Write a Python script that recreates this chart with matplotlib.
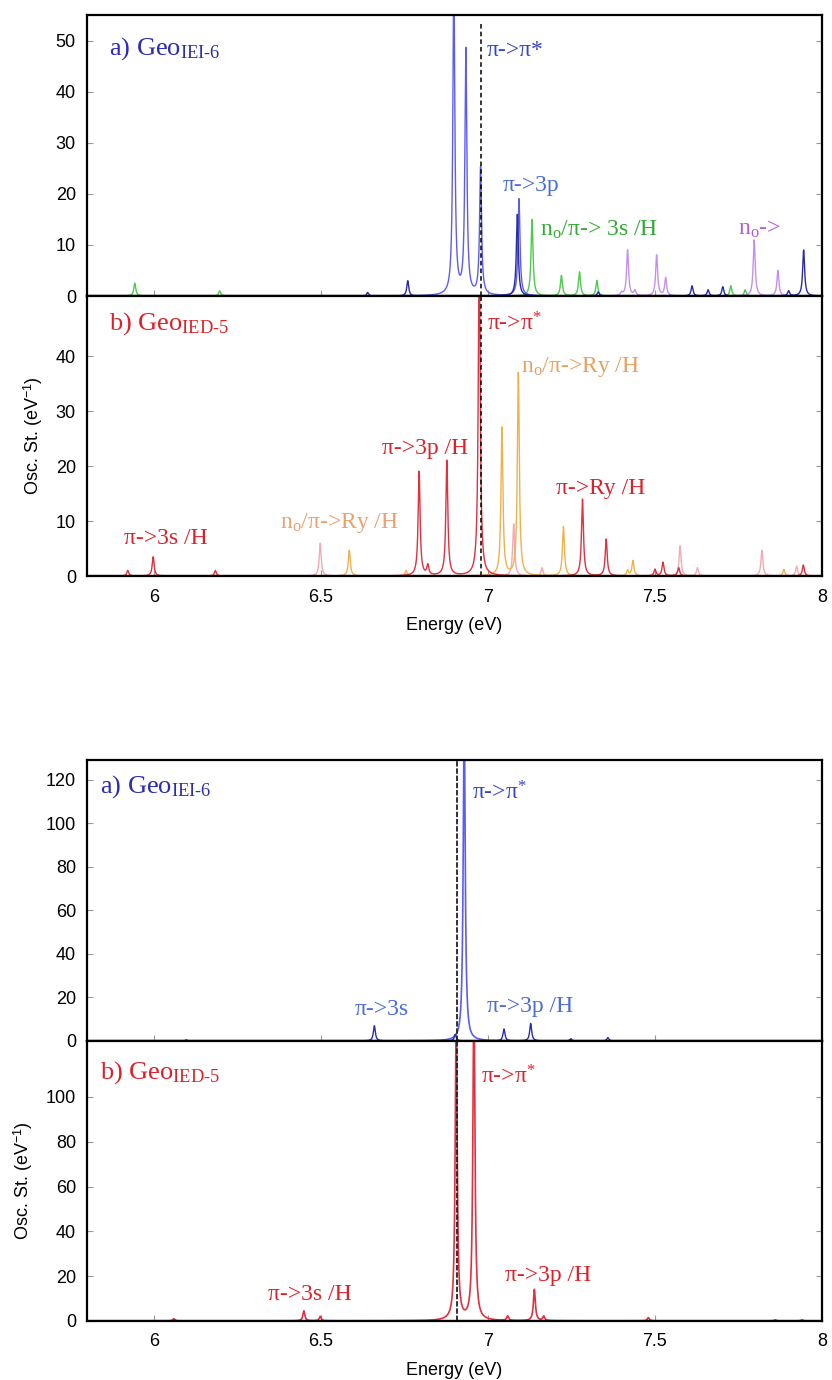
import numpy as np
import matplotlib
matplotlib.use("Agg")
from matplotlib import pyplot as plt
from matplotlib.ticker import FuncFormatter

plt.rcParams['font.family'] = ['Liberation Sans', 'DejaVu Sans']
plt.rcParams['mathtext.fontset'] = 'custom'
plt.rcParams['mathtext.rm'] = 'Liberation Serif'
plt.rcParams['mathtext.it'] = 'Liberation Serif:italic'
plt.rcParams['mathtext.sf'] = 'Liberation Sans'

# ---- stick data (energy eV, osc. strength) ----
# top figure, panel a (Geo IEI-6)
a1_blue_e = [6.898, 6.934, 6.978, 7.093]
a1_blue_f = [62, 48, 25, 19]
a1_dblue_e = [6.64, 6.76, 7.088, 7.33, 7.611, 7.659, 7.703, 7.90, 7.945]
a1_dblue_f = [0.7, 3, 16, 0.8, 2, 1.2, 1.8, 1.0, 9]
a1_green_e = [5.943, 6.197, 7.132, 7.22, 7.274, 7.326, 7.727, 7.77]
a1_green_f = [2.5, 1.0, 15, 4, 4.7, 3, 2, 1.2]
a1_violet_e = [7.418, 7.44, 7.505, 7.532, 7.40, 7.797, 7.868]
a1_violet_f = [9, 1.0, 8, 3.5, 0.6, 11, 5]

# top figure, panel b (Geo IED-5)
b1_red_e = [5.922, 5.998, 6.184, 6.794, 6.82, 6.877, 6.974, 7.283, 7.354,
            7.50, 7.524, 7.571, 7.944]
b1_red_f = [1.0, 3.5, 1.0, 19, 1.8, 21, 60, 14, 6.7, 1.2, 2.5, 1.5, 2]
b1_orange_e = [6.585, 6.755, 7.042, 7.091, 7.226, 7.418, 7.434, 7.886]
b1_orange_f = [4.7, 1.0, 27, 37, 9, 1.0, 2.8, 1.2]
b1_pink_e = [6.498, 7.077, 7.162, 7.575, 7.627, 7.82, 7.924]
b1_pink_f = [6, 9.5, 1.5, 5.5, 1.5, 4.7, 1.8]

# bottom figure, panel a (Geo IEI-6)
a2_blue_e = [6.929]
a2_blue_f = [150]
a2_dblue_e = [6.097, 6.66, 6.902, 7.048, 7.128, 7.248, 7.359]
a2_dblue_f = [0.5, 7, 3, 5.5, 8, 1.0, 1.5]

# bottom figure, panel b (Geo IED-5)
b2_red_e = [6.06, 6.449, 6.498, 6.905, 6.958, 7.059, 7.139, 7.167, 7.48,
            7.86, 7.94]
b2_red_f = [1.0, 4.5, 2, 140, 150, 2, 14, 2, 1.5, 0.5, 0.5]

dashed_top = 6.98
dashed_bot = 6.908

# ---- colours ----
BLUE = '#5c5cf2'
DBLUE = '#2b2ba8'
GREEN = '#4ccc4c'
VIOLET = '#c490ee'
RED = '#e23040'
ORANGE = '#f2b04c'
PINK = '#f6a8b4'

xgrid = np.linspace(5.8, 8.0, 9000)


def spectrum(pos, amp, g=0.0035):
    y = np.zeros_like(xgrid)
    for p, h in zip(pos, amp):
        y += h * g**2 / ((xgrid - p)**2 + g**2)
    return y


fig = plt.figure(figsize=(8.32, 13.8), dpi=100)
L, W, H = 0.1046, 0.8834, 0.2029
ax1 = fig.add_axes([L, 0.7855, W, 0.2036])
ax2 = fig.add_axes([L, 0.5826, W, H])
ax3 = fig.add_axes([L, 0.2457, W, 0.2036])
ax4 = fig.add_axes([L, 0.0428, W, H])

fmt = FuncFormatter(lambda v, p: '%g' % v)
for ax in (ax1, ax2, ax3, ax4):
    ax.set_xlim(5.8, 8.0)
    ax.set_xticks([6, 6.5, 7, 7.5, 8])
    ax.xaxis.set_major_formatter(fmt)
    ax.tick_params(direction='in', length=4, color='#999999', labelsize=13,
                   right=True, top=False)
    ax.tick_params(axis='x', pad=9)
    ax.tick_params(axis='y', pad=8)
    for s in ax.spines.values():
        s.set_linewidth(1.6)
        s.set_color('black')

for ax in (ax1, ax3):
    ax.tick_params(labelbottom=False)

ax1.set_ylim(0, 55)
ax1.set_yticks([0, 10, 20, 30, 40, 50])
ax2.set_ylim(0, 51)
ax2.set_yticks([0, 10, 20, 30, 40])
ax3.set_ylim(0, 129)
ax3.set_yticks([0, 20, 40, 60, 80, 100, 120])
ax4.set_ylim(0, 125)
ax4.set_yticks([0, 20, 40, 60, 80, 100])

# spectra
ax1.plot(xgrid, spectrum(a1_green_e, a1_green_f), color=GREEN, lw=1)
ax1.plot(xgrid, spectrum(a1_violet_e, a1_violet_f), color=VIOLET, lw=1)
ax1.plot(xgrid, spectrum(a1_blue_e, a1_blue_f), color=BLUE, lw=1)
ax1.plot(xgrid, spectrum(a1_dblue_e, a1_dblue_f), color=DBLUE, lw=1)

ax2.plot(xgrid, spectrum(b1_pink_e, b1_pink_f), color=PINK, lw=1)
ax2.plot(xgrid, spectrum(b1_orange_e, b1_orange_f), color=ORANGE, lw=1)
ax2.plot(xgrid, spectrum(b1_red_e, b1_red_f), color=RED, lw=1)

ax3.plot(xgrid, spectrum(a2_blue_e, a2_blue_f), color=BLUE, lw=1.2)
ax3.plot(xgrid, spectrum(a2_dblue_e, a2_dblue_f), color=DBLUE, lw=1)

ax4.plot(xgrid, spectrum(b2_red_e, b2_red_f), color=RED, lw=1.2)

# baselines
for ax in (ax1, ax2, ax3, ax4):
    ax.axhline(0, color='black', lw=1.6)

# dashed reference lines
ax1.plot([dashed_top, dashed_top], [0, 53.6], color='black', lw=1.1, ls=(0, (3, 2)))
ax2.axvline(dashed_top, color='black', lw=1.1, ls=(0, (3, 2)))
ax3.axvline(dashed_bot, color='#222222', lw=1.3, ls=(0, (3, 1)))
ax4.axvline(dashed_bot, color='#222222', lw=1.3, ls=(0, (3, 1)))

SER = 17
GEO = 19
ax1.text(5.865, 48.5, r'a) Geo$_{\mathrm{IEI\text{-}6}}$', color='#2b2bb4', fontsize=GEO,
         family='Liberation Serif', va='center')
ax1.text(6.997, 48, 'π->π*', color='#3444cc', fontsize=SER, family='Liberation Serif', va='center')
ax1.text(7.043, 21.6, 'π->3p', color='#4a6ae0', fontsize=SER, family='Liberation Serif', va='center')
ax1.text(7.156, 13, r'n$_{\mathrm{o}}$/π-> 3s /H', color='#33aa33', fontsize=SER,
         family='Liberation Serif', va='center')
ax1.text(7.75, 13, r'n$_{\mathrm{o}}$->', color='#b458e2', fontsize=SER,
         family='Liberation Serif', va='center')

ax2.text(5.865, 46, r'b) Geo$_{\mathrm{IED\text{-}5}}$', color='#e02028', fontsize=GEO,
         family='Liberation Serif', va='center')
ax2.text(6.997, 46, r'π->π$^{*}$', color='#e02028', fontsize=SER, family='Liberation Serif', va='center')
ax2.text(7.1, 38, r'n$_{\mathrm{o}}$/π->Ry /H', color='#e8a060', fontsize=SER,
         family='Liberation Serif', va='center')
ax2.text(6.683, 23.2, 'π->3p /H', color='#e02028', fontsize=SER, family='Liberation Serif', va='center')
ax2.text(7.204, 16, 'π->Ry /H', color='#e02028', fontsize=SER, family='Liberation Serif', va='center')
ax2.text(6.379, 9.6, r'n$_{\mathrm{o}}$/π->Ry /H', color='#eaa070', fontsize=SER,
         family='Liberation Serif', va='center')
ax2.text(5.91, 6.8, 'π->3s /H', color='#e02028', fontsize=SER, family='Liberation Serif', va='center')

ax3.text(5.84, 116.7, r'a) Geo$_{\mathrm{IEI\text{-}6}}$', color='#2b2bb4', fontsize=GEO,
         family='Liberation Serif', va='center')
ax3.text(6.953, 114, r'π->π$^{*}$', color='#3444cc', fontsize=SER, family='Liberation Serif', va='center')
ax3.text(6.60, 14.4, 'π->3s', color='#4a6ae0', fontsize=SER, family='Liberation Serif', va='center')
ax3.text(6.997, 15.6, 'π->3p /H', color='#4a6ae0', fontsize=SER, family='Liberation Serif', va='center')

ax4.text(5.84, 110.7, r'b) Geo$_{\mathrm{IED\text{-}5}}$', color='#e02028', fontsize=GEO,
         family='Liberation Serif', va='center')
ax4.text(6.978, 109, r'π->π$^{*}$', color='#e02028', fontsize=SER, family='Liberation Serif', va='center')
ax4.text(6.342, 12, 'π->3s /H', color='#e02028', fontsize=SER, family='Liberation Serif', va='center')
ax4.text(7.05, 20.5, 'π->3p /H', color='#e02028', fontsize=SER, family='Liberation Serif', va='center')

for ax in (ax2, ax4):
    ax.set_xlabel('Energy (eV)', fontsize=13)
    ax.set_ylabel(r'Osc. St. (eV$^{\mathsf{-1}}$)', fontsize=13)
ax2.yaxis.set_label_coords(-0.057, 0.5)
ax4.yaxis.set_label_coords(-0.071, 0.5)
ax2.xaxis.set_label_coords(0.5, -0.145)
ax4.xaxis.set_label_coords(0.5, -0.145)

plt.savefig('out.png', dpi=100)
